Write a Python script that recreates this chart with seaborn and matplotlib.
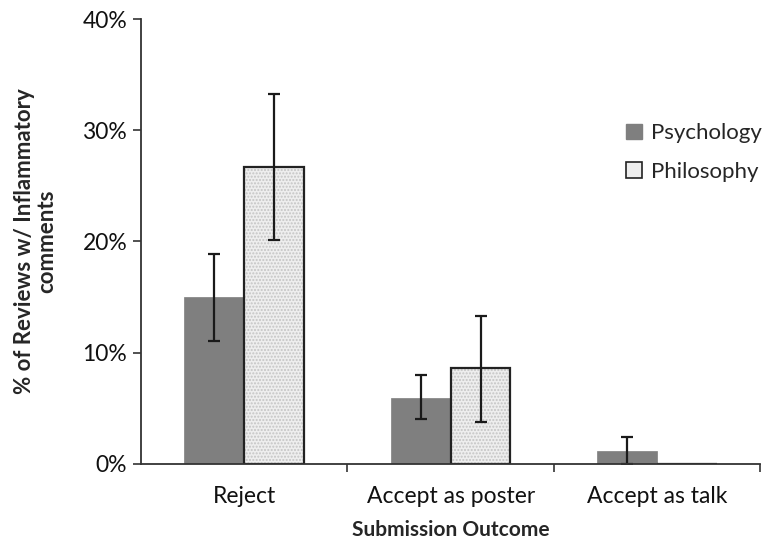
import pandas as pd
import seaborn as sns
import matplotlib.pyplot as plt
from matplotlib.colors import to_rgba
from matplotlib.patches import Patch
from matplotlib.ticker import PercentFormatter, FixedLocator

outcomes = ['Reject', 'Accept as poster', 'Accept as talk']
fields = ['Psychology', 'Philosophy']

psych_pct = [15.0, 5.9, 1.2]
psych_low = [11.1, 4.0, 0.0]
psych_high = [18.9, 8.0, 2.4]

philo_pct = [26.7, 8.6, 0.0]
philo_low = [20.1, 3.8, None]
philo_high = [33.3, 13.3, None]

colors = {'Psychology': '#7f7f7f', 'Philosophy': '#eeeeee'}

sns.set_style('white')
plt.rcParams['font.family'] = ['Lato', 'DejaVu Sans']

df = pd.DataFrame({
    'outcome': outcomes * 2,
    'field': ['Psychology'] * 3 + ['Philosophy'] * 3,
    'pct': psych_pct + philo_pct,
})

fig = plt.figure(figsize=(7.71, 5.43), dpi=100)
ax = fig.add_axes([0.183, 0.1455, 0.803, 0.8195])

sns.barplot(data=df, x='outcome', y='pct', hue='field', order=outcomes,
            hue_order=fields, palette=colors, width=0.58, gap=0,
            errorbar=None, ax=ax, legend=False, saturation=1)

n = len(outcomes)
bars = ax.patches
for i, p in enumerate(bars):
    if i < n:
        p.set_edgecolor('#7f7f7f')
        p.set_linewidth(0.5)
    else:
        p.set_edgecolor('#222222')
        p.set_linewidth(1.6)
        p.set_hatch('.....')
        p._hatch_color = to_rgba('#c4c4c4')

# error bars
lows = psych_low + philo_low
highs = psych_high + philo_high
for p, lo, hi in zip(bars, lows, highs):
    if lo is None:
        continue
    xc = p.get_x() + p.get_width() / 2
    h = p.get_height()
    ax.errorbar(xc, h, yerr=[[h - lo], [hi - h]], fmt='none',
                ecolor='#1a1a1a', elinewidth=1.6, capsize=4.5, capthick=1.6)

ax.set_xlim(-0.5, 2.5)
ax.set_ylim(0, 40)
ax.yaxis.set_major_formatter(PercentFormatter(decimals=0))
ax.set_yticks([0, 10, 20, 30, 40])

for s in ['top', 'right']:
    ax.spines[s].set_visible(False)
for s in ['left', 'bottom']:
    ax.spines[s].set_color('#333333')
    ax.spines[s].set_linewidth(1.3)

ax.tick_params(axis='y', which='major', left=True, length=6, width=1.2,
               color='#333333', labelsize=16.5, pad=4, labelcolor='#111111')
ax.tick_params(axis='x', which='major', bottom=False, labelsize=16.5, pad=12,
               labelcolor='#111111')
ax.xaxis.set_minor_locator(FixedLocator([0.5, 1.5, 2.5]))
ax.tick_params(axis='x', which='minor', bottom=True, length=6, width=1.2,
               color='#333333')

ax.set_xlabel('Submission Outcome', fontsize=15, fontweight='bold', labelpad=10)
ax.set_ylabel('% of Reviews w/ Inflammatory\ncomments', fontsize=16,
              fontweight='bold', labelpad=18, linespacing=1.1)

handles = [Patch(facecolor=colors['Psychology'], edgecolor='#7f7f7f'),
           Patch(facecolor=colors['Philosophy'], edgecolor='#222222', linewidth=1.2)]
ax.legend(handles, fields, loc='center left', bbox_to_anchor=(0.784, 0.70),
          frameon=False, fontsize=16, handlelength=0.7, handleheight=0.7,
          handletextpad=0.4, labelspacing=0.85, borderpad=0, borderaxespad=0)

fig.savefig('out.png', dpi=100)
